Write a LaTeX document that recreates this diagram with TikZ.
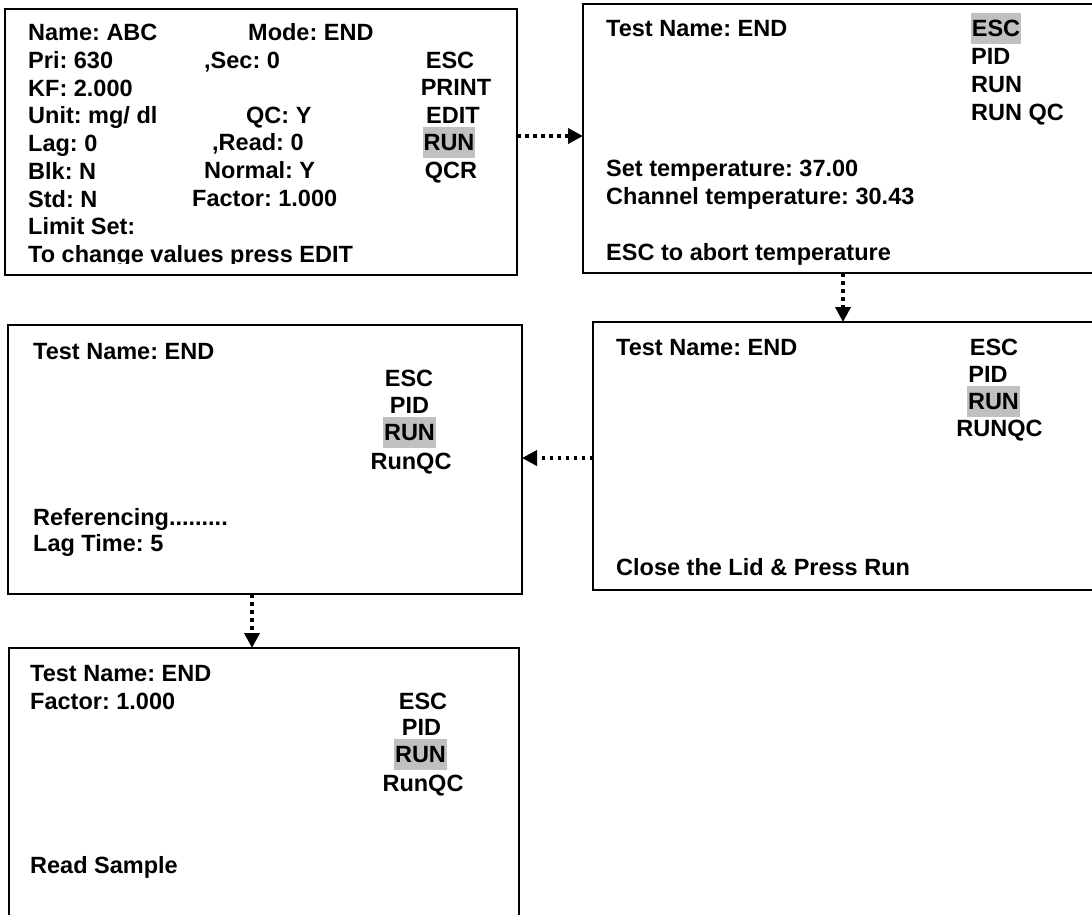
\documentclass[tikz,border=0pt]{standalone}
\usepackage{fontspec}
\setmainfont{Liberation Sans}
\usetikzlibrary{arrows.meta}
\definecolor{selgray}{RGB}{192,192,192}
\tikzset{
  screen/.style={draw,line width=1.3pt,inner sep=0pt,outer sep=0pt,anchor=north west},
  txt/.style={anchor=west,inner sep=0pt,text height=17pt,text depth=0pt,font=\bfseries\fontsize{23.5}{28}\selectfont\frenchspacing},
  key/.style={txt,anchor=center},
  sel/.style={key,fill=selgray,inner xsep=1pt,inner ysep=7pt},
  flow/.style={line width=3.5pt,dash pattern=on 3.5pt off 4.5pt,-{Triangle[length=15pt,width=15pt]}},
}

\begin{document}
\begin{tikzpicture}[x=1pt,y=-1pt]
  \clip (0,0) rectangle (1092,914);
  \fill[white] (0,0) rectangle (1092,914);

  % screens
  \node[screen,minimum width=512pt,minimum height=266pt] (b1) at (5,9) {};
  \node[screen,minimum width=530pt,minimum height=269pt] (b2) at (583,4) {};
  \node[screen,minimum width=520pt,minimum height=268pt] (b3) at (593,322) {};
  \node[screen,minimum width=514pt,minimum height=269pt] (b4) at (8,325) {};
  \node[screen,minimum width=510pt,minimum height=300pt] (b5) at (9,648) {};

  % screen 1: test parameters
  \foreach \t [count=\i from 0] in {Name: ABC,Pri: 630,KF: 2.000,Unit: mg/ dl,Lag: 0,Blk: N,Std: N,Limit Set:}
    \node[txt] (b1row\i) at (28,32+27.75*\i) {\t};
  \begin{scope}
    \clip (b1.north west) rectangle (517,263);
    \node[txt] (b1hint) at (28,254) {To change values press EDIT};
  \end{scope}
  \node[txt] (b1mode) at (248,32) {Mode: END};
  \node[txt] (b1sec) at (204,60) {,Sec: 0};
  \node[txt] (b1qc) at (246,115) {QC: Y};
  \node[txt] (b1read) at (212,142) {,Read: 0};
  \node[txt] (b1normal) at (204,170) {Normal: Y};
  \node[txt] (b1factor) at (192,198) {Factor: 1.000};
  \node[key] (b1esc) at (450,60) {ESC};
  \node[key] (b1print) at (456,87) {PRINT};
  \node[key] (b1edit) at (453,115) {EDIT};
  \node[sel] (b1run) at (449,142) {RUN};
  \node[key] (b1qcr) at (451,170) {QCR};

  % screen 2: temperature
  \node[txt] (b2name) at (606,28) {Test Name: END};
  \node[sel] (b2esc) at (996,28) {ESC};
  \node[txt] (b2pid) at (971,56) {PID};
  \node[txt] (b2run) at (971,84) {RUN};
  \node[txt] (b2runqc) at (971,112) {RUN QC};
  \node[txt] (b2set) at (606,168) {Set temperature: 37.00};
  \node[txt] (b2chan) at (606,196) {Channel temperature: 30.43};
  \node[txt] (b2abort) at (606,252) {ESC to abort temperature};

  % screen 3: close lid
  \node[txt] (b3name) at (616,347) {Test Name: END};
  \node[key] (b3esc) at (994,347) {ESC};
  \node[key] (b3pid) at (988,374) {PID};
  \node[sel] (b3run) at (993.5,401) {RUN};
  \node[key] (b3runqc) at (999.5,428) {RUNQC};
  \node[txt] (b3lid) at (616,567) {Close the Lid \& Press Run};

  % screen 4: referencing
  \node[txt] (b4name) at (33,351) {Test Name: END};
  \node[key] (b4esc) at (409,378) {ESC};
  \node[key] (b4pid) at (409.5,405) {PID};
  \node[sel] (b4run) at (409.5,432) {RUN};
  \node[key] (b4runqc) at (411,461) {RunQC};
  \node[txt] (b4ref) at (33,517) {Referencing.........};
  \node[txt] (b4lag) at (33,543) {Lag Time: 5};

  % screen 5: read sample
  \node[txt] (b5name) at (30,673) {Test Name: END};
  \node[txt] (b5factor) at (30,701) {Factor: 1.000};
  \node[key] (b5esc) at (423,701) {ESC};
  \node[key] (b5pid) at (421.5,727) {PID};
  \node[sel] (b5run) at (420.5,754) {RUN};
  \node[key] (b5runqc) at (423,783) {RunQC};
  \node[txt] (b5read) at (30,865) {Read Sample};

  % flow
  \draw[flow] (b1.east |- 0,136) -- (b2.west |- 0,136);
  \draw[flow] (b2.south -| 843,0) -- (b3.north -| 843,0);
  \draw[flow] (b3.west |- 0,458) -- (b4.east |- 0,458);
  \draw[flow] (b4.south -| 252,0) -- (b5.north -| 252,0);
\end{tikzpicture}
\end{document}
